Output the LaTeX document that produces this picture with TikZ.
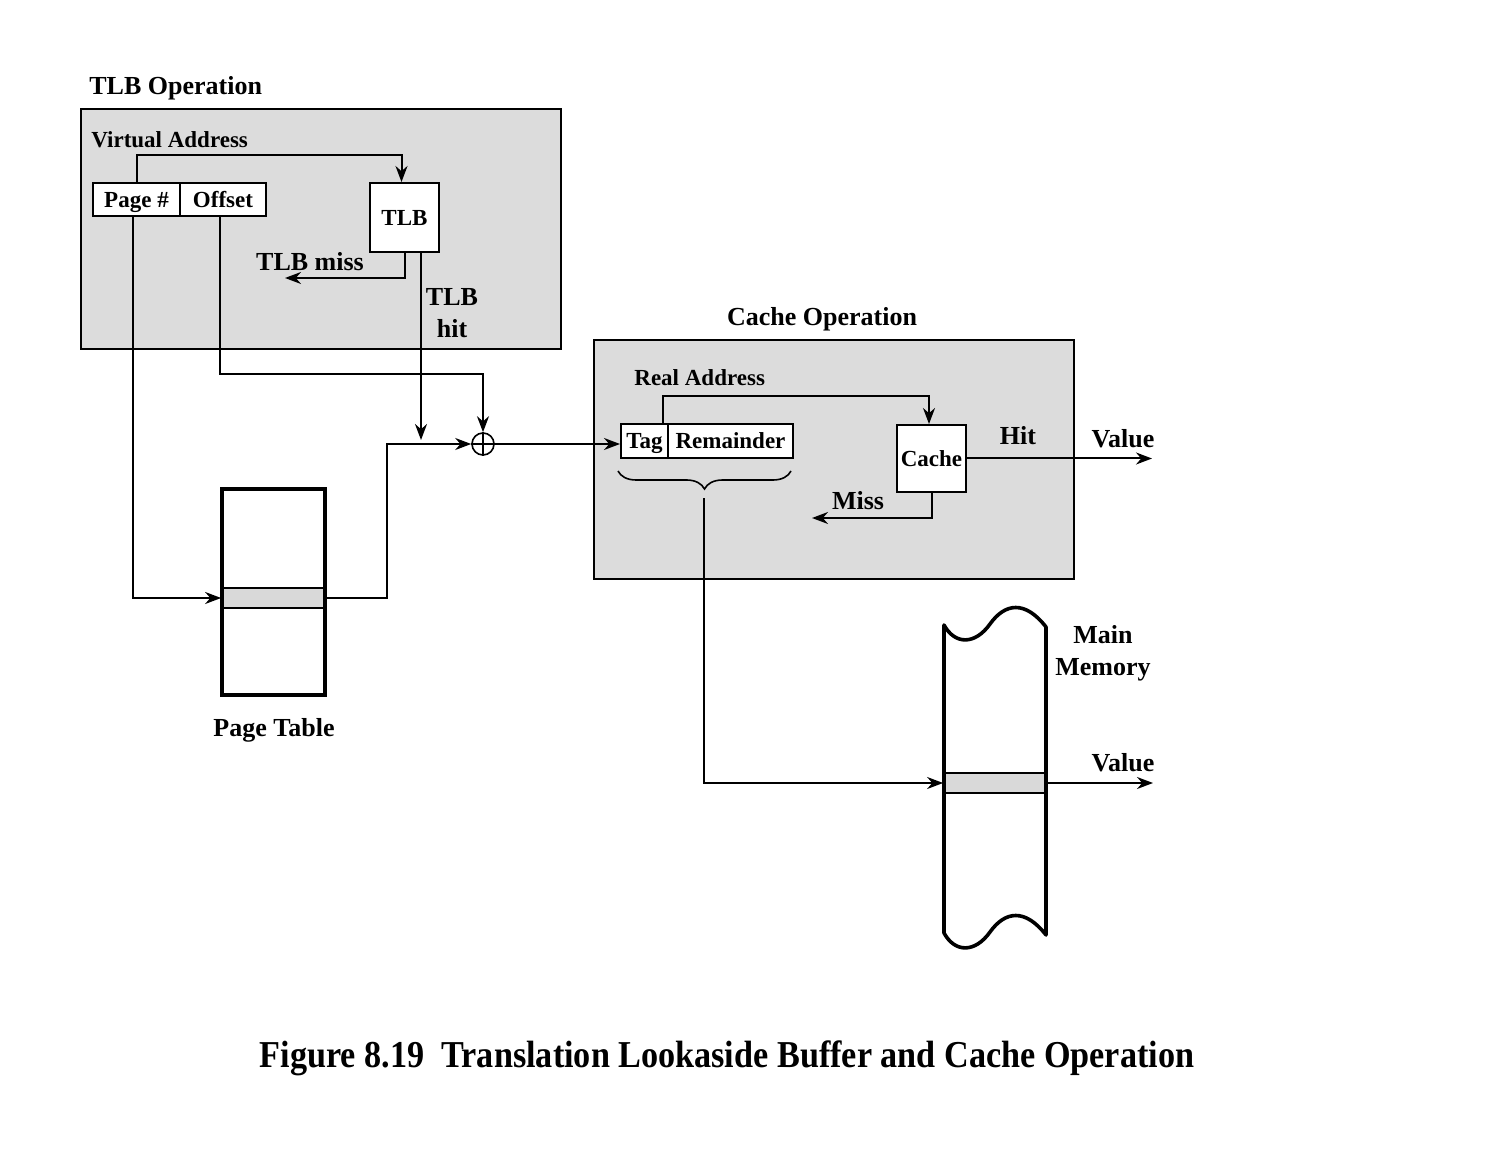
\documentclass[tikz,border=0pt]{standalone}
\usepackage{fontspec}
\setmainfont{Liberation Serif}
\usepackage{graphicx}
\usetikzlibrary{arrows.meta, decorations.pathreplacing, calc}

\definecolor{opgray}{RGB}{220,220,220}
\definecolor{rowgray}{RGB}{217,217,217}

\begin{document}
\begin{tikzpicture}[x=0.5pt, y=-0.5pt, >={Stealth[length=8pt, width=6pt]},
  opbox/.style={draw, line width=1pt, fill=opgray, inner sep=0pt},
  field/.style={draw, line width=1pt, fill=white, inner sep=0pt, minimum height=16.5pt,
                text height=7.6pt, text depth=0pt,
                font=\fontsize{11.5}{13}\selectfont\bfseries},
  unitbox/.style={draw, line width=1pt, fill=white, inner sep=0pt, minimum width=34.5pt,
                  minimum height=34.5pt, text height=7.6pt, text depth=0pt,
                  font=\fontsize{11.5}{13}\selectfont\bfseries},
  rowbox/.style={draw, line width=0.9pt, fill=rowgray, inner sep=0pt, minimum height=10pt},
  lblsmall/.style={font=\fontsize{11.5}{13}\selectfont\bfseries, inner sep=0pt},
  lblbig/.style={font=\fontsize{13}{16}\selectfont\bfseries, inner sep=0pt, align=center},
  link/.style={line width=1pt, ->}]
  \useasboundingbox (0,0) rectangle (1508,1165);

  % TLB operation
  \node[opbox, minimum width=240pt, minimum height=120pt] (tlbop) at (321,229) {};
  \node[lblbig, anchor=west] (tlbtitle) at (89,88) {TLB Operation};
  \node[lblsmall, anchor=west] (vatext) at (91,140) {Virtual Address};
  \node[field, minimum width=43.5pt] (page) at (136.5,199.5) {Page \#};
  \node[field, minimum width=43pt] (offset) at (223,199.5) {Offset};
  \node[unitbox] (tlb) at (404.5,217.5) {TLB};
  \node[lblbig] (misstext) at (310,262) {TLB miss};
  \node[lblbig] (hittext) at (452,313) {TLB\\hit};

  % Page table
  \node[rowbox, minimum width=51.5pt] (ptrow) at (273.5,598) {};
  \node[draw, line width=2pt, inner sep=0pt, minimum width=51.5pt, minimum height=103pt]
    (ptable) at (273.5,592) {};
  \node[lblbig] (pttext) at (274,730) {Page Table};

  % Adder
  \node[draw, circle, line width=0.8pt, minimum size=11pt, inner sep=0pt] (adder) at (483,444) {};
  \draw[line width=0.8pt] (adder.north) -- (adder.south) (adder.west) -- (adder.east);

  % Cache operation
  \node[opbox, minimum width=240pt, minimum height=119.5pt] (cacheop) at (834,459.5) {};
  \node[lblbig] (cachetitle) at (822,319) {Cache Operation};
  \node[lblsmall, anchor=west] (ratext) at (634,378) {Real Address};
  \node[field, minimum width=23.5pt, minimum height=17pt] (tag) at (644.5,441) {Tag};
  \node[field, minimum width=62.5pt, minimum height=17pt] (rem) at (730.5,441) {Remainder};
  \node[unitbox, minimum height=33.5pt] (cache) at (931.5,458.5) {Cache};
  \node[lblbig] (cachehit) at (1018,436) {Hit};
  \node[lblbig] (cacheval) at (1123,439) {Value};
  \node[lblbig] (cachemiss) at (858,501) {Miss};

  % Main memory
  \node[rowbox, minimum width=51pt] (memrow) at (995,783) {};
  \draw[line width=1.8pt, line join=round]
    (944,625) .. controls (955,645) and (975,645) .. (990,624)
    .. controls (1005,603) and (1025,600) .. (1046,627) -- (1046,935)
    .. controls (1025,908) and (1005,911) .. (990,932)
    .. controls (975,953) and (955,953) .. (944,933) -- cycle;
  \node[lblbig] (memtext) at (1103,653) {Main\\Memory};
  \node[lblbig] (memvaltext) at (1123,763) {Value};

  % Connectors
  \coordinate (missend) at (285,278);
  \coordinate (hitend) at (421,440);
  \coordinate (hitval) at (1152,458.5);
  \coordinate (missend2) at (812,518);
  \coordinate (brtip) at (704,498);
  \coordinate (memval) at (1153,783);
  \draw[link] (page.north) -- ++(0,-27) -| ([xshift=-1.5pt]tlb.north);
  \draw[link] (tlb.south) |- (missend);
  \draw[link] (tlb.south -| hitend) -- (hitend);
  \draw[link] ([xshift=-1.5pt]offset.south) -- ++(0,157) -| (adder.north);
  \draw[link] ([xshift=-1.75pt]page.south) |- (ptrow.west);
  \draw[link] (ptrow.east) -- ++(61,0) |- (adder.west);
  \draw[link] (adder.east) -- (adder.east -| tag.west);
  \draw[link] ([xshift=-3pt]tag.north east) -- ++(0,-27) -| ([xshift=-1.25pt]cache.north);
  \draw[link] (cache.east) -- (hitval);
  \draw[link] (cache.south) |- (missend2);
  \draw[decorate, decoration={brace, amplitude=9pt, mirror}, line width=0.8pt]
    (618,471) -- (791,471);
  \draw[link] (brtip) |- (memrow.west);
  \draw[link] (memrow.east) -- (memval);

  % Caption
  \node[inner sep=0pt] (caption) at (727,1058)
    {\fontsize{19}{23}\selectfont\bfseries\scalebox{0.9}[1]{Figure 8.19\ \ Translation Lookaside Buffer and Cache Operation}};
\end{tikzpicture}
\end{document}
